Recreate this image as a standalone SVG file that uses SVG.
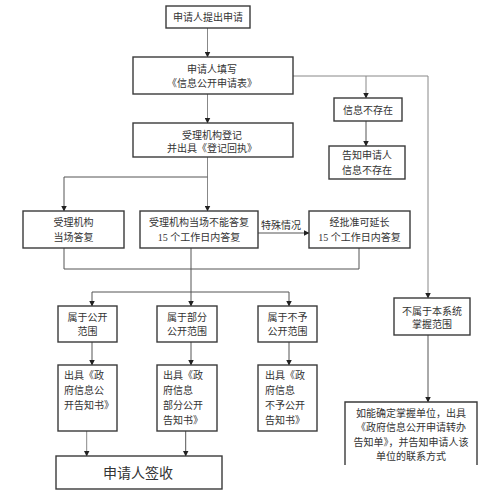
<svg xmlns="http://www.w3.org/2000/svg" width="499" height="497" viewBox="0 0 499 497">
<defs>
<marker id="ah" markerWidth="6" markerHeight="6" refX="5.5" refY="3" orient="auto" markerUnits="userSpaceOnUse">
<path d="M0,0 L6,3 L0,6 Z" fill="#222"/>
</marker>
<style>
.box{fill:#fff;stroke:#3a3a3a;stroke-width:1.4}
.t{font-family:"Liberation Serif","Noto Sans CJK SC",sans-serif;font-size:10px;fill:#333;text-anchor:middle}
.l{text-anchor:start}
.c{fill:none;stroke:#555;stroke-width:1}
.cl{fill:none;stroke:#888;stroke-width:1}
.a{marker-end:url(#ah)}
</style>
</defs>
<rect width="499" height="497" fill="#fff"/>
<g id="connectors">
<path class="cl a" d="M207.5,28 V57"/>
<path class="cl a" d="M207.5,94 V123"/>
<path class="cl a" d="M293,76 H428 V298"/>
<path class="cl a" d="M366,76 V98"/>
<path class="c a" d="M366,121 V146"/>
<path class="cl a" d="M207.5,157 V211"/>
<path class="c a" d="M207.5,177 H64 V211"/>
<path class="c a" d="M258,233 H309"/>
<path class="c" d="M64,248 V269 H359 V248"/>
<path class="c" d="M191,248 V292"/>
<path class="c" d="M92,292 H289"/>
<path class="c a" d="M92,292 V306"/>
<path class="c a" d="M191,292 V306"/>
<path class="c a" d="M289,292 V306"/>
<path class="c a" d="M92,342 V365"/>
<path class="c a" d="M191,342 V365"/>
<path class="c a" d="M289,342 V365"/>
<path class="cl a" d="M86.7,431 V456"/>
<path class="c a" d="M185.7,431 V456" stroke-width="1.6"/>
<path class="c a" d="M428,335 V402"/>
<text class="t" x="281" y="229">特殊情况</text>
</g>
<g id="n1"><rect class="box" x="166" y="6" width="84" height="22"/><text class="t" x="208" y="21">申请人提出申请</text></g>
<g id="n2"><rect class="box" x="133" y="57" width="160" height="37"/><text class="t" x="212" y="73">申请人填写</text><text class="t" x="212" y="87">《信息公开申请表》</text></g>
<g id="n3"><rect class="box" x="133" y="123" width="160" height="34"/><text class="t" x="212" y="139">受理机构登记</text><text class="t" x="212" y="152">并出具《登记回执》</text></g>
<g id="n4"><rect class="box" x="334" y="98" width="68" height="23"/><text class="t" x="368" y="113.5">信息不存在</text></g>
<g id="n5"><rect class="box" x="329" y="146" width="76" height="33"/><text class="t" x="367" y="159">告知申请人</text><text class="t" x="367" y="174">信息不存在</text></g>
<g id="n6"><rect class="box" x="23" y="211" width="101" height="37"/><text class="t" x="73.5" y="226">受理机构</text><text class="t" x="73.5" y="241">当场答复</text></g>
<g id="n7"><rect class="box" x="140" y="211" width="118" height="37"/><text class="t" x="199" y="226">受理机构当场不能答复</text><text class="t" x="199" y="241">15 个工作日内答复</text></g>
<g id="n8"><rect class="box" x="309" y="211" width="101" height="37"/><text class="t" x="359.5" y="226">经批准可延长</text><text class="t" x="359.5" y="241">15 个工作日内答复</text></g>
<g id="n9"><rect class="box" x="394" y="298" width="76" height="37"/><text class="t" x="432" y="315">不属于本系统</text><text class="t" x="432" y="328">掌握范围</text></g>
<g id="n10"><path class="box" d="M345,465 V402 H477 V465"/><text class="t" x="411" y="417">如能确定掌握单位，出具</text><text class="t" x="411" y="431">《政府信息公开申请转办</text><text class="t" x="411" y="446">告知单》，并告知申请人该</text><text class="t" x="411" y="460">单位的联系方式</text></g>
<g id="n11"><rect class="box" x="58" y="306" width="59" height="36"/><text class="t" x="87.5" y="321">属于公开</text><text class="t" x="87.5" y="335">范围</text></g>
<g id="n12"><rect class="box" x="157" y="306" width="60" height="36"/><text class="t" x="187" y="321">属于部分</text><text class="t" x="187" y="335">公开范围</text></g>
<g id="n13"><rect class="box" x="258" y="306" width="59" height="36"/><text class="t" x="287.5" y="321">属于不予</text><text class="t" x="287.5" y="335">公开范围</text></g>
<g id="n14"><rect class="box" x="58" y="365" width="59" height="66"/><text class="t l" x="64" y="379">出具《政</text><text class="t l" x="64" y="394">府信息公</text><text class="t l" x="64" y="409">开告知书》</text></g>
<g id="n15"><rect class="box" x="157" y="365" width="60" height="66"/><text class="t l" x="163" y="379">出具《政</text><text class="t l" x="163" y="394">府信息</text><text class="t l" x="163" y="409">部分公开</text><text class="t l" x="163" y="424">告知书》</text></g>
<g id="n16"><rect class="box" x="258" y="365" width="59" height="66"/><text class="t l" x="265" y="379">出具《政</text><text class="t l" x="265" y="394">府信息</text><text class="t l" x="265" y="409">不予公开</text><text class="t l" x="265" y="424">告知书》</text></g>
<g id="n17"><rect class="box" x="56" y="456" width="166" height="33"/><text class="t" x="138" y="478" style="font-size:14px">申请人签收</text></g>
</svg>
